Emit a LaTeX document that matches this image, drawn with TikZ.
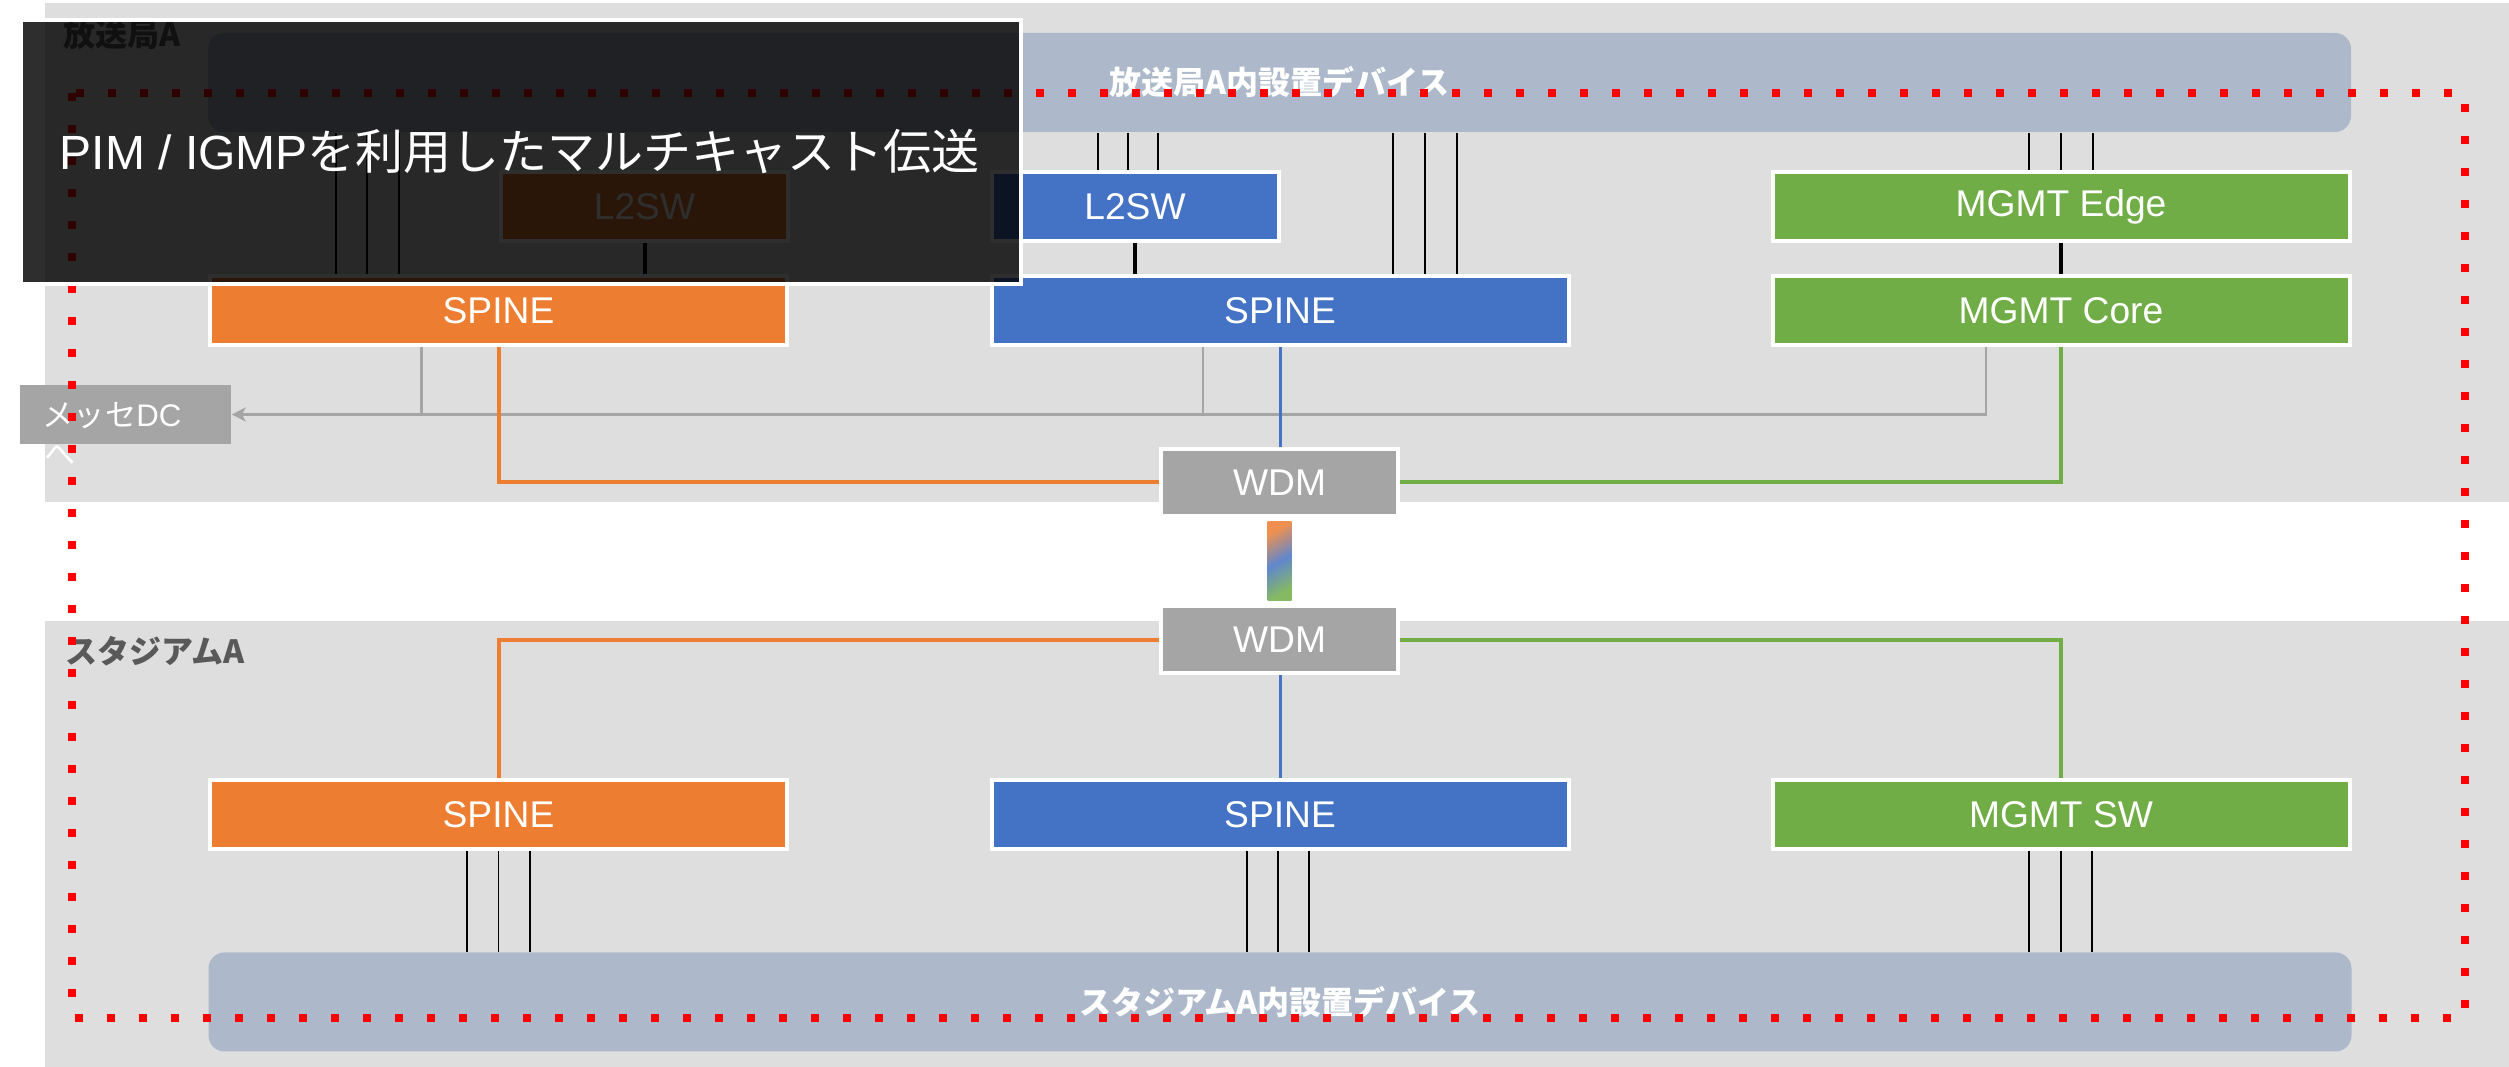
\documentclass[tikz,border=0pt]{standalone}
\usepackage{fontspec}
\setmainfont{Liberation Sans}
\newfontfamily\cjk{Noto Sans CJK JP}
\usetikzlibrary{calc,arrows.meta}
\definecolor{bgC}{HTML}{DEDEDE}
\definecolor{barC}{HTML}{ADB9CA}
\definecolor{orC}{HTML}{ED7D31}
\definecolor{blC}{HTML}{4472C4}
\definecolor{grC}{HTML}{70AD47}
\definecolor{gyC}{HTML}{A5A5A5}
\definecolor{lblC}{HTML}{595959}
\pgfdeclarelayer{bg}
\pgfdeclarelayer{lines}
\pgfsetlayers{bg,lines,main}
\begin{document}
\begin{tikzpicture}[x=0.25pt,y=-0.25pt,
  box/.style={draw=white,line width=1pt,minimum width=144.25pt,minimum height=17.25pt,inner sep=0pt,text=white,font=\fontsize{9.3}{11}\selectfont},
  smallbox/.style={box,minimum width=71.75pt},
  wdmbox/.style={box,fill=gyC,minimum width=59.25pt,minimum height=16.75pt},
  devbar/.style={fill=barC,rounded corners=4pt,minimum width=535.75pt,minimum height=24.75pt,inner sep=0pt,text=white,font=\cjk\bfseries\fontsize{8}{10}\selectfont},
  regionlbl/.style={anchor=west,inner sep=0pt,text=lblC,font=\cjk\bfseries\fontsize{8}{10}\selectfont},
  thinline/.style={black,line width=0.45pt},
  thickline/.style={black,line width=1pt},
  gyline/.style={gyC,line width=0.6pt},
  orline/.style={orC,line width=1pt},
  blline/.style={blC,line width=0.75pt},
  grline/.style={grC,line width=1pt},
  reddot/.style={red,line width=2pt,dash pattern=on 2pt off 6pt},
]
\useasboundingbox (0,0) rectangle (2509,1067);
\begin{pgfonlayer}{bg}
\fill[bgC] (45,3) rectangle (2509,502);
\fill[bgC] (45,621) rectangle (2509,1067);
\node[regionlbl] (lblA) at (63,34) {放送局A};
\node[regionlbl] (lblS) at (65,651) {スタジアムA};
\node[devbar] (topbar) at (1279.5,82.5) {放送局A内設置デバイス};
\node[devbar] (botbar) at (1280,1002) {スタジアムA内設置デバイス};
\end{pgfonlayer}

% boxes
\node[smallbox,fill=orC] (oL2) at (644.5,206.5) {L2SW};
\node[smallbox,fill=blC] (bL2) at (1135,206.5) {L2SW};
\node[box,fill=grC] (gEdge) at (2061,206.5) {MGMT Edge};
\node[box,fill=orC] (oSp) at (498.5,310.5) {SPINE};
\node[box,fill=blC] (bSp) at (1280,310.5) {SPINE};
\node[box,fill=grC] (gCore) at (2061,310.5) {MGMT Core};
\node[wdmbox] (wT) at (1279.5,482.5) {WDM};
\node[wdmbox] (wB) at (1279.5,640) {WDM};
\node[box,fill=orC] (oSpB) at (498.5,814.5) {SPINE};
\node[box,fill=blC] (bSpB) at (1280,814.5) {SPINE};
\node[box,fill=grC] (gSW) at (2061,814.5) {MGMT SW};
\node[fill=gyC,minimum width=52.75pt,minimum height=14.75pt,inner sep=0pt] (dc) at (125.5,414.5) {};
\node[anchor=west,inner sep=0pt,text=white,font=\fontsize{7.8}{9}\selectfont] (dct) at (42,416) {{\cjk メッセ}DC};
\node[anchor=west,inner sep=0pt,text=white,font=\cjk\fontsize{7.8}{9}\selectfont] (dch) at (44,455) {へ};

\begin{pgfonlayer}{lines}
% device bar links
\foreach \dx in {-162.5,-131.5,-99.5}
  \draw[thinline] ($(topbar.south -| oSp.north)+(\dx,0)$) -- ($(oSp.north)+(\dx,0)$);
\foreach \dx in {-37,-7,23}
  \draw[thinline] ($(topbar.south -| bL2.north)+(\dx,0)$) -- ($(bL2.north)+(\dx,0)$);
\foreach \dx in {113,145,177}
  \draw[thinline] ($(topbar.south -| bSp.north)+(\dx,0)$) -- ($(bSp.north)+(\dx,0)$);
\foreach \dx in {-32,0,32}
  \draw[thinline] ($(topbar.south -| gEdge.north)+(\dx,0)$) -- ($(gEdge.north)+(\dx,0)$);
\draw[thickline] (oL2.south) -- (oL2.south |- oSp.north);
\draw[thickline] (bL2.south) -- (bL2.south |- bSp.north);
\draw[thickline] (gEdge.south) -- (gCore.north);
\foreach \dx in {-31.5,0,31.5}
  \draw[thinline] ($(oSpB.south)+(\dx,0)$) -- ($(botbar.north -| oSpB.south)+(\dx,0)$);
\foreach \dx in {-33,-2,29}
  \draw[thinline] ($(bSpB.south)+(\dx,0)$) -- ($(botbar.north -| bSpB.south)+(\dx,0)$);
\foreach \dx in {-32,0,31}
  \draw[thinline] ($(gSW.south)+(\dx,0)$) -- ($(botbar.north -| gSW.south)+(\dx,0)$);
% gray links to DC
\coordinate (g1) at (421.5,414.5);
\coordinate (g2) at (1203,414.5);
\coordinate (g3) at (1986,414.5);
\draw[gyline] (g1 |- oSp.south) -- (g1);
\draw[gyline] (g2 |- bSp.south) -- (g2);
\draw[gyline,-{Stealth[length=3.5pt,width=3.5pt,inset=1pt]}] (g3 |- gCore.south) -- (g3) -- (dc.east);
% WDM links
\draw[orline] (oSp.south) |- (wT.west);
\draw[blline] (bSp.south) -- (bSp.south |- wT.north);
\draw[grline] (gCore.south) |- (wT.east);
\draw[orline] (wB.west) -| (oSpB.north);
\draw[blline] (bSpB.north |- wB.south) -- (bSpB.north);
\draw[grline] (wB.east) -| (gSW.north);
\end{pgfonlayer}
\shade[top color=orC!85!white,bottom color=grC!85!white,middle color=blC!85!white,shading angle=30]
  ([xshift=-3pt,yshift=-1pt]wT.south) rectangle ([xshift=3pt,yshift=1pt]wB.north);

% red dotted frame
\draw[reddot] (72,93) rectangle (2465,1018);

% title overlay
\node[draw=white,line width=1pt,fill=black,fill opacity=0.82,minimum width=250pt,minimum height=66pt,inner sep=0pt] (tbox) at (520.5,152) {};
\node[anchor=west,inner sep=0pt,text=white,font=\fontsize{12}{14}\selectfont] (title) at (59,152) {PIM / IGMP{\cjk を利用したマルチキャスト伝送}};
\end{tikzpicture}
\end{document}
